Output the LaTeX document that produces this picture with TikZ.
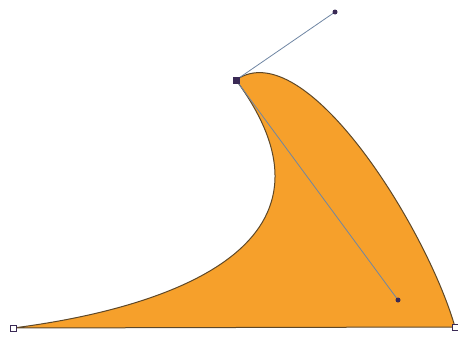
\documentclass[tikz,border=0pt]{standalone}
\definecolor{fillor}{HTML}{F6A02B}
\definecolor{edge}{HTML}{5E4828}
\definecolor{handle}{HTML}{6F86A3}
\definecolor{dotc}{HTML}{3A2A55}
\tikzset{
  anchorpt/.style={draw=dotc, fill=white, line width=0.8pt, minimum size=6pt, inner sep=0pt, rectangle},
  toppt/.style={draw=dotc, fill=dotc, minimum size=6pt, inner sep=0pt, rectangle},
  ctrlpt/.style={fill=dotc, circle, minimum size=5pt, inner sep=0pt},
  handleline/.style={draw=handle, line width=0.8pt},
}
\begin{document}
\begin{tikzpicture}[x=1pt,y=-1pt]
\useasboundingbox (0,0) rectangle (458,343);
\coordinate (A) at (13,328);
\coordinate (T) at (236,80);
\coordinate (B) at (455,327);
\coordinate (C1) at (335,12);
\coordinate (C2) at (398,300);
\fill[fillor, draw=edge, line width=1pt]
  (A) .. controls (140,312) and (366,256) .. (T)
  .. controls (305,32) and (427,229) .. (B) -- cycle;
\draw[handleline] (C1) -- (T) -- (C2);
\node[ctrlpt] (c1) at (C1) {};
\node[ctrlpt] (c2) at (C2) {};
\node[toppt] (t) at (T) {};
\node[anchorpt] (a) at (A) {};
\node[anchorpt] (b) at (B) {};
\end{tikzpicture}
\end{document}
